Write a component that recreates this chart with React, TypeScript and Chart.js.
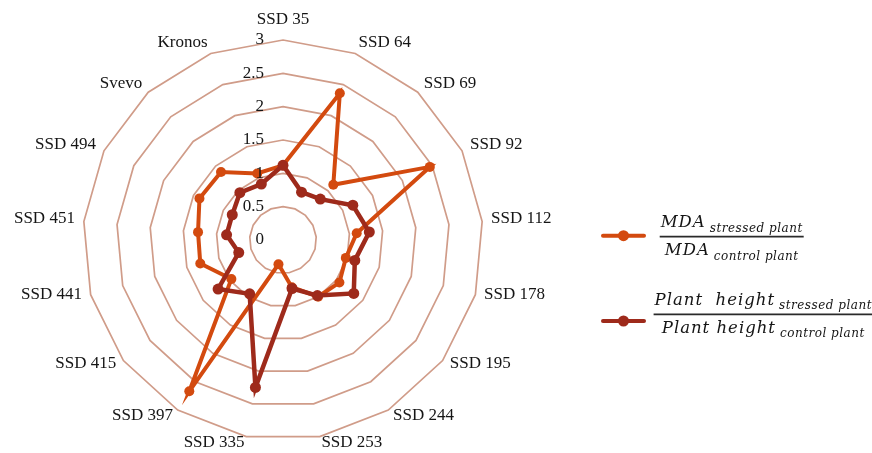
import React, { useEffect, useRef } from 'react';
import { Chart, registerables } from 'chart.js';

Chart.register(...registerables);

// Genotypes around the radar, clockwise from the top
const genotypes = [
  'SSD 35', 'SSD 64', 'SSD 69', 'SSD 92', 'SSD 112', 'SSD 178', 'SSD 195', 'SSD 244',
  'SSD 253', 'SSD 335', 'SSD 397', 'SSD 415', 'SSD 441', 'SSD 451', 'SSD 494', 'Svevo', 'Kronos',
];

// MDA ratio (stressed / control)
const mdaRatio = [1.12, 2.36, 1.12, 2.46, 1.11, 0.98, 1.06, 1.0, 0.72, 0.37, 2.67, 0.97, 1.29, 1.28, 1.4, 1.38, 1.07];

// Plant height ratio (stressed / control)
const heightRatio = [1.12, 0.77, 0.83, 1.17, 1.3, 1.12, 1.33, 0.98, 0.74, 2.25, 0.95, 1.22, 0.69, 0.85, 0.85, 0.96, 0.9];

// Radial axis ticks
const tickValues = [0, 0.5, 1, 1.5, 2, 2.5, 3];
const tickLabels = ['0', '0.5', '1', '1.5', '2', '2.5', '3'];

// Legend fractions: [main, subscript]
const mdaNumerator = ['MDA', 'stressed plant'];
const mdaDenominator = ['MDA', 'control plant'];
const heightNumerator = ['Plant  height', 'stressed plant'];
const heightDenominator = ['Plant height', 'control plant'];

const ORANGE = '#D34A0F';
const DARK_RED = '#9E2A1B';
const GRID = '#D09C89';
const TEXT = '#151515';
const LABEL_FONT = '17px "Liberation Serif", "Times New Roman", serif';

// Category labels and axis values, placed with the radial scale's own geometry
const radarText = {
  id: 'radarText',
  afterDatasetsDraw(chart: any) {
    const scale = chart.scales.r;
    const ctx = chart.ctx;
    ctx.save();
    ctx.fillStyle = TEXT;
    ctx.font = LABEL_FONT;

    const labels = chart.data.labels as string[];
    const dist = scale.drawingArea + 9;
    labels.forEach((label, i) => {
      const p = scale.getPointPosition(i, dist);
      const s = Math.sin(scale.getIndexAngle(i));
      ctx.textBaseline = 'middle';
      if (Math.abs(s) < 0.05) {
        ctx.textAlign = 'center';
        ctx.fillText(label, p.x, p.y - 11);
      } else {
        ctx.textAlign = s > 0 ? 'left' : 'right';
        ctx.fillText(label, p.x, p.y - 2.5);
      }
    });

    ctx.textAlign = 'right';
    ctx.textBaseline = 'middle';
    tickValues.forEach((v, i) => {
      const d = scale.getDistanceFromCenterForValue(v);
      ctx.fillText(tickLabels[i], scale.xCenter - 19, scale.yCenter - d);
    });
    ctx.restore();
  },
};

type Fraction = { num: string[]; den: string[]; cx: number; barY: number; markerY: number; color: string };

// Legend with line markers and stacked ratio fractions
const fractionLegend = {
  id: 'fractionLegend',
  afterDraw(chart: any) {
    const ctx = chart.ctx as CanvasRenderingContext2D & { letterSpacing?: string };
    const ds = chart.data.datasets;
    const items: Fraction[] = [
      { num: mdaNumerator, den: mdaDenominator, cx: 731.7, barY: 236.7, markerY: 235.7, color: ds[0].borderColor },
      { num: heightNumerator, den: heightDenominator, cx: 763.3, barY: 314.3, markerY: 321, color: ds[1].borderColor },
    ];
    const mainFont = 'italic 16.5px "DejaVu Serif", serif';
    const subFont = 'italic 12px "DejaVu Serif", serif';
    const gap = 4;

    const measure = (parts: string[]) => {
      ctx.font = mainFont;
      ctx.letterSpacing = '1px';
      const wm = ctx.measureText(parts[0]).width;
      ctx.font = subFont;
      ctx.letterSpacing = '0.5px';
      const ws = ctx.measureText(parts[1]).width;
      return { wm, ws, total: wm + gap + ws };
    };
    const drawPart = (parts: string[], x: number, baseline: number) => {
      const m = measure(parts);
      ctx.font = mainFont;
      ctx.letterSpacing = '1px';
      ctx.fillText(parts[0], x, baseline);
      ctx.font = subFont;
      ctx.letterSpacing = '0.5px';
      ctx.fillText(parts[1], x + m.wm + gap, baseline + 4.5);
    };

    ctx.save();
    items.forEach((it) => {
      // marker
      ctx.strokeStyle = it.color;
      ctx.lineWidth = 4;
      ctx.lineCap = 'round';
      ctx.beginPath();
      ctx.moveTo(603, it.markerY);
      ctx.lineTo(644, it.markerY);
      ctx.stroke();
      ctx.fillStyle = it.color;
      ctx.beginPath();
      ctx.arc(623.5, it.markerY, 5.5, 0, Math.PI * 2);
      ctx.fill();

      // fraction
      const n = measure(it.num);
      const d = measure(it.den);
      const bw = Math.max(n.total, d.total) + 2;
      ctx.strokeStyle = '#2a2a2a';
      ctx.lineWidth = 1.7;
      ctx.lineCap = 'butt';
      ctx.beginPath();
      ctx.moveTo(it.cx - bw / 2, it.barY);
      ctx.lineTo(it.cx + bw / 2, it.barY);
      ctx.stroke();

      ctx.fillStyle = TEXT;
      ctx.textAlign = 'left';
      ctx.textBaseline = 'alphabetic';
      drawPart(it.num, it.cx - n.total / 2, it.barY - 9.4);
      drawPart(it.den, it.cx - d.total / 2, it.barY + 18.5);
    });
    ctx.letterSpacing = '0px';
    ctx.restore();
  },
};

export default function App() {
  const canvasRef = useRef<HTMLCanvasElement | null>(null);

  useEffect(() => {
    if (!canvasRef.current) return;
    const chart = new Chart(canvasRef.current, {
      type: 'radar',
      data: {
        labels: genotypes,
        datasets: [
          {
            label: 'MDA stressed / control',
            data: mdaRatio,
            borderColor: ORANGE,
            backgroundColor: ORANGE,
            pointBackgroundColor: ORANGE,
            pointBorderColor: ORANGE,
            borderWidth: 4,
            pointRadius: 5,
            pointBorderWidth: 0,
            fill: false,
            tension: 0,
            order: 1,
          },
          {
            label: 'Plant height stressed / control',
            data: heightRatio,
            borderColor: DARK_RED,
            backgroundColor: DARK_RED,
            pointBackgroundColor: DARK_RED,
            pointBorderColor: DARK_RED,
            borderWidth: 4.5,
            pointRadius: 5.5,
            pointBorderWidth: 0,
            fill: false,
            tension: 0,
            order: 0,
          },
        ],
      },
      options: {
        animation: false,
        responsive: true,
        maintainAspectRatio: false,
        layout: { padding: { left: 83, top: 40, right: 389, bottom: 13 } },
        plugins: {
          legend: { display: false },
          tooltip: { enabled: false },
        },
        scales: {
          r: {
            min: 0,
            max: 3,
            ticks: { stepSize: 0.5, display: false },
            grid: { color: GRID, lineWidth: 1.7, circular: false },
            angleLines: { display: false },
            pointLabels: { display: false },
          },
        },
      },
      plugins: [radarText, fractionLegend],
    });
    return () => chart.destroy();
  }, []);

  return (
    <div style={{ position: 'absolute', left: 0, top: 0, width: 872, height: 453, background: '#fff' }}>
      <canvas ref={canvasRef} />
    </div>
  );
}
